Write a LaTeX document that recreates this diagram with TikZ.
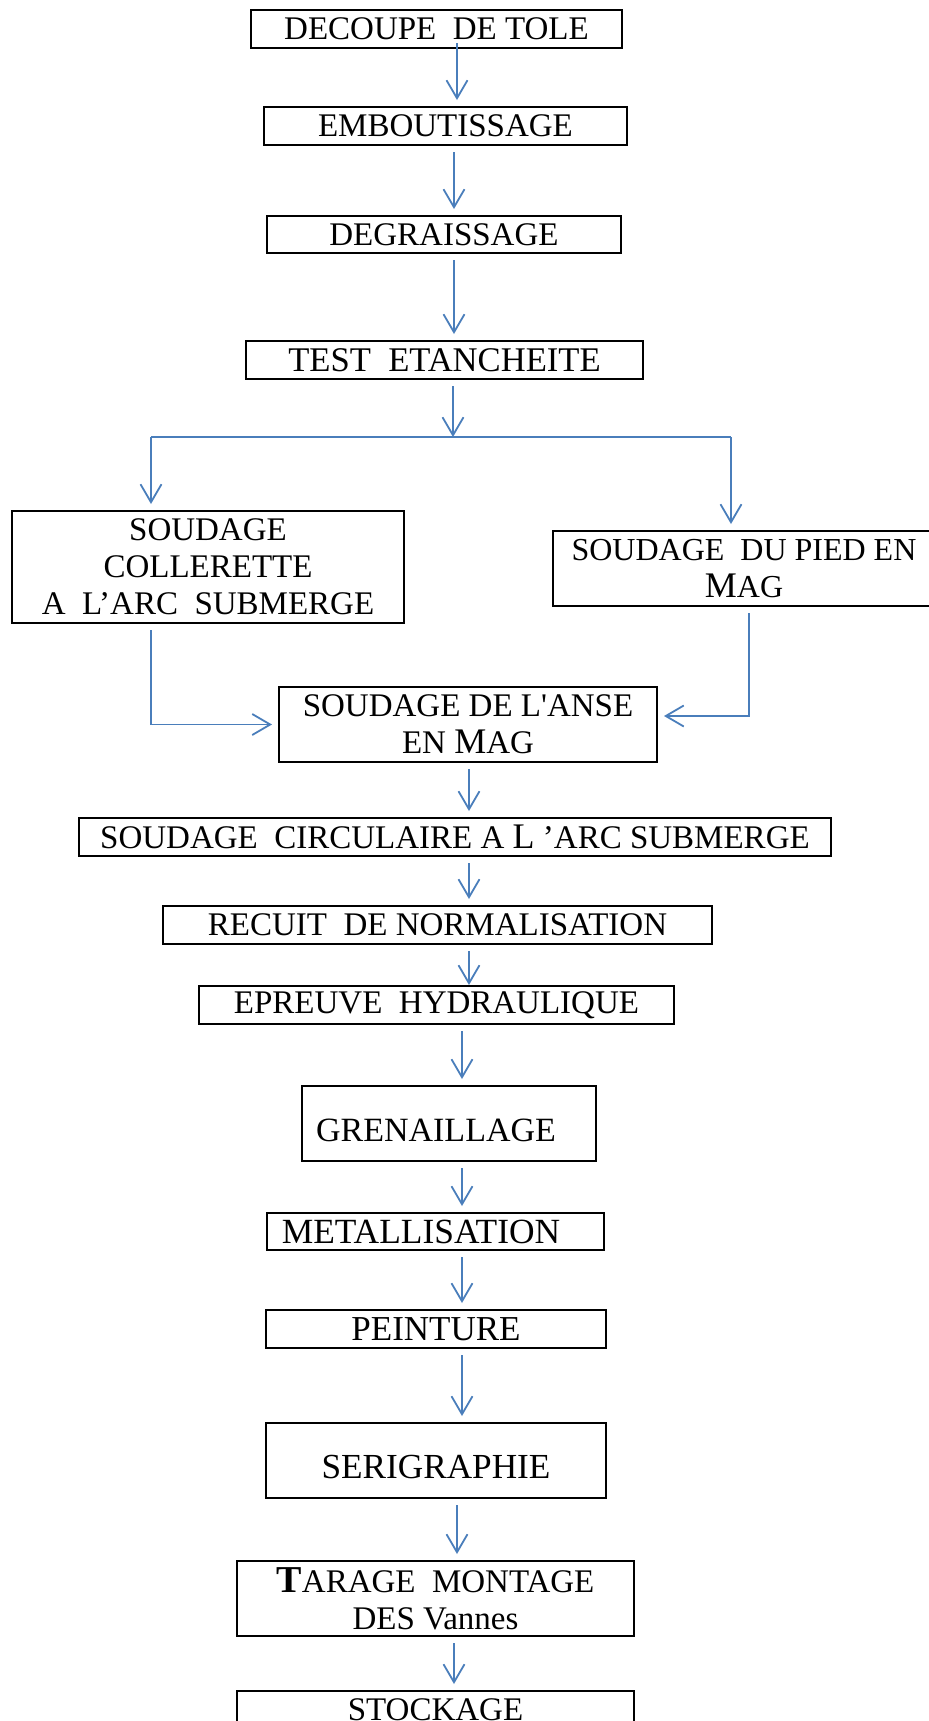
\documentclass[tikz,border=0pt]{standalone}
\usepackage{fontspec}
\newfontfamily\boxfont{Liberation Serif}
\usetikzlibrary{arrows.meta, calc}
\definecolor{flowblue}{RGB}{74,126,187}
\newcommand{\grand}[1]{{\fontsize{18}{18.5}\selectfont #1}}

\begin{document}
\begin{tikzpicture}[x=0.5pt, y=-0.5pt,
    etape/.style={draw, line width=1pt, inner sep=0pt, align=center,
        font=\boxfont\fontsize{#1}{18.5}\selectfont},
    etape/.default=16.5,
    fleche/.style={draw=flowblue, line width=0.9pt,
        -{Straight Barb[length=9pt, width=10.5pt]}, shorten <=3pt, shorten >=3pt},
    trait/.style={draw=flowblue, line width=0.9pt}]
    \useasboundingbox (0,0) rectangle (928,1721);

    % Etapes
    \node[etape, minimum width=185.5pt, minimum height=19pt] (decoupe) at (436.5,29) {DECOUPE~ DE TOLE};
    \node[etape, minimum width=181.5pt, minimum height=19pt] (embout) at (445.5,126) {EMBOUTISSAGE};
    \node[etape, minimum width=177pt, minimum height=18.5pt] (degr) at (444,234.5) {DEGRAISSAGE};
    \node[etape=17.3, minimum width=198.5pt, minimum height=19pt] (test) at (444.5,360) {TEST~ ETANCHEITE};

    \node[etape, minimum width=196pt, minimum height=56pt] (collerette) at (208,567) {SOUDAGE\\COLLERETTE\\A~ L’ARC~ SUBMERGE};
    \node[etape=16, minimum width=191pt, minimum height=37.5pt] (pied) at (744,568.5) {SOUDAGE~ DU PIED EN\\\grand{M}AG};
    \node[etape, minimum width=189pt, minimum height=37.5pt] (anse) at (468,724.5) {SOUDAGE DE L'ANSE\\EN \grand{M}AG};

    \node[etape, minimum width=376pt, minimum height=19pt] (circ) at (455,837) {SOUDAGE~ CIRCULAIRE A \grand{L} ’ARC SUBMERGE};
    \node[etape, minimum width=274.5pt, minimum height=19pt] (recuit) at (437.5,925) {RECUIT~ DE NORMALISATION};
    \node[etape, minimum width=237.5pt, minimum height=19pt] (epreuve) at (436.5,1005) {EPREUVE~ HYDRAULIQUE};
    \node[etape=17, minimum width=147pt, minimum height=37.5pt] (gren) at (449,1123.5) {\mbox{}\\GRENAILLAGE\hspace*{13pt}};
    \node[etape=17.7, minimum width=168.5pt, minimum height=18.5pt] (metal) at (435.5,1231.5) {METALLISATION\hspace*{14.5pt}};
    \node[etape=17.5, minimum width=170pt, minimum height=19pt] (peinture) at (436,1329) {PEINTURE};
    \node[etape=17.6, minimum width=170pt, minimum height=37.5pt] (serig) at (436,1460.5) {\mbox{}\\SERIGRAPHIE};
    \node[etape, minimum width=198.5pt, minimum height=37.5pt] (tarage) at (435.5,1598.5) {{\fontsize{19}{18.5}\selectfont\bfseries T}ARAGE~ MONTAGE\\DES Vannes};
    \node[etape, minimum width=198.5pt, minimum height=19pt] (stockage) at (435.5,1710) {STOCKAGE};

    % Fleches
    \draw[fleche, shorten <=-3pt] (decoupe.south -| 457,0) -- (embout.north -| 457,0);
    \draw[fleche] (embout.south -| 454,0) -- (degr.north -| 454,0);
    \draw[fleche] (degr.south -| 454,0) -- (test.north -| 454,0);

    % Partage vers les deux soudages
    \coordinate (partage) at (453,437);
    \coordinate (partageG) at (151,437);
    \coordinate (partageD) at (731,437);
    \draw[fleche, shorten >=0pt] (test.south -| partage) -- (partage);
    \draw[trait] (partageG) -- (partageD);
    \draw[fleche, shorten <=0pt] (partageG) -- (collerette.north -| partageG);
    \draw[fleche, shorten <=0pt] (partageD) -- (pied.north -| partageD);

    % Retour vers l'anse
    \draw[fleche] (collerette.south -| partageG) |- (anse.west);
    \draw[fleche] (pied.south -| 749,0) |- ([yshift=4.25pt]anse.east);

    \draw[fleche] (anse.south -| 469,0) -- (circ.north -| 469,0);
    \draw[fleche] (circ.south -| 469,0) -- (recuit.north -| 469,0);
    \draw[fleche, shorten >=0pt] (recuit.south -| 469,0) -- (epreuve.north -| 469,0);
    \draw[fleche] (epreuve.south -| 462,0) -- (gren.north -| 462,0);
    \draw[fleche] (gren.south -| 462,0) -- (metal.north -| 462,0);
    \draw[fleche] (metal.south -| 462,0) -- (peinture.north -| 462,0);
    \draw[fleche] (peinture.south -| 462,0) -- (serig.north -| 462,0);
    \draw[fleche] (serig.south -| 457,0) -- (tarage.north -| 457,0);
    \draw[fleche] (tarage.south -| 454,0) -- (stockage.north -| 454,0);
\end{tikzpicture}
\end{document}
